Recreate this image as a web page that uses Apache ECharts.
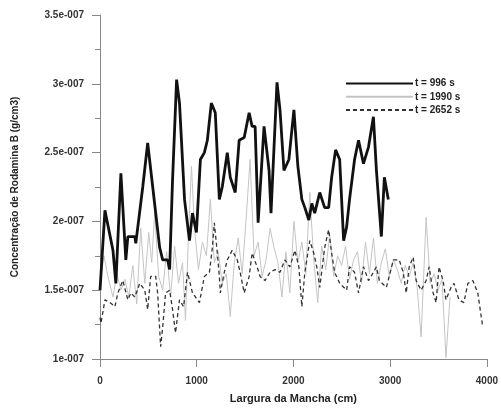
<!DOCTYPE html>
<html>
<head>
<meta charset="utf-8">
<script src="https://cdn.jsdelivr.net/npm/echarts@6/dist/echarts.min.js"></script>
<style>
  html, body { margin: 0; padding: 0; background: #fff; }
  #chart { width: 501px; height: 409px; }
</style>
</head>
<body>
<div id="chart"></div>
<script>
// concentrations are in units of 1e-7 g/cm3
var seriesNames = ['t = 996 s', 't = 1990 s', 't = 2652 s'];

var xTicks = [0, 1000, 2000, 3000, 4000];
var yTickLabels = ['1e-007', '1.5e-007', '2e-007', '2.5e-007', '3e-007', '3.5e-007'];

var x996 = [0, 51, 134, 164, 216, 267, 288, 360, 370, 442, 493, 545, 617, 648, 699, 720, 750, 792, 822, 874,
    884, 925, 956, 997, 1038, 1079, 1110, 1151, 1192, 1234, 1264, 1316, 1347, 1398, 1439, 1491, 1542, 1573, 1604, 1635,
    1696, 1748, 1768, 1830, 1861, 1902, 1953, 2005, 2046, 2087, 2118, 2159, 2190, 2220, 2272, 2323, 2364, 2395, 2436, 2478,
    2519, 2550, 2580, 2632, 2673, 2724, 2776, 2827, 2858, 2909, 2940, 2981];
var y996 = [1.50, 2.08, 1.79, 1.55, 2.35, 1.72, 1.89, 1.89, 1.84, 2.25, 2.57, 2.25, 1.81, 1.72, 1.72, 1.65, 2.30, 3.03, 2.86, 2.16,
    2.10, 1.86, 2.06, 1.92, 2.45, 2.50, 2.59, 2.86, 2.79, 2.16, 2.25, 2.50, 2.32, 2.21, 2.59, 2.61, 2.79, 2.69, 2.69, 1.99,
    2.69, 2.37, 2.06, 3.01, 2.81, 2.37, 2.45, 2.81, 2.40, 2.16, 2.10, 2.01, 2.13, 2.06, 2.21, 2.10, 2.10, 2.32, 2.52, 2.45,
    1.86, 1.96, 2.16, 2.45, 2.59, 2.42, 2.54, 2.76, 2.37, 1.89, 2.32, 2.16];

var x1990 = [0, 41, 82, 134, 175, 216, 257, 298, 339, 380, 421, 463, 504, 535, 565, 607, 648, 689, 730, 771,
    812, 853, 884, 915, 946, 977, 1018, 1059, 1100, 1141, 1182, 1223, 1264, 1306, 1347, 1388, 1429, 1470, 1511, 1552,
    1593, 1635, 1676, 1717, 1758, 1799, 1840, 1881, 1922, 1963, 2005, 2046, 2087, 2128, 2169, 2210, 2251, 2292, 2334, 2375,
    2416, 2457, 2498, 2539, 2580, 2621, 2663, 2704, 2745, 2786, 2827, 2868, 2909, 2950, 2991, 3033, 3074, 3115, 3156, 3197,
    3238, 3279, 3320, 3372, 3413, 3454, 3495, 3536, 3577, 3619];
var y1990 = [1.55, 1.75, 1.60, 1.45, 1.62, 1.50, 1.58, 1.45, 1.68, 1.40, 1.95, 1.55, 1.92, 1.70, 2.06, 1.60, 1.50, 1.78, 1.45, 1.82,
    1.55, 1.70, 1.28, 1.90, 2.40, 1.95, 1.65, 1.85, 1.75, 2.16, 1.70, 1.78, 1.55, 1.62, 1.31, 1.70, 1.88, 1.62, 2.02, 2.45,
    1.75, 1.85, 1.60, 1.72, 1.95, 1.81, 1.70, 1.45, 1.78, 1.48, 2.00, 1.70, 1.85, 1.62, 2.21, 1.72, 1.41, 1.82, 1.65, 1.90,
    1.60, 1.75, 1.68, 1.82, 1.58, 1.72, 1.78, 1.55, 1.85, 1.62, 1.88, 1.55, 1.70, 1.80, 1.60, 1.72, 1.65, 1.55, 1.68, 1.60,
    1.70, 1.52, 1.16, 2.03, 1.55, 1.62, 1.50, 1.58, 1.01, 1.45];

var x2652 = [0, 10, 51, 103, 154, 185, 236, 288, 319, 360, 411, 463, 493, 524, 576, 596, 627, 648, 678, 720,
    750, 781, 822, 864, 905, 956, 1007, 1028, 1079, 1131, 1162, 1182, 1213, 1234, 1244, 1285, 1316, 1367, 1419, 1449,
    1491, 1542, 1573, 1624, 1655, 1706, 1758, 1809, 1861, 1912, 1963, 2015, 2056, 2087, 2118, 2169, 2210, 2241, 2272, 2323,
    2364, 2395, 2426, 2478, 2550, 2580, 2632, 2673, 2724, 2776, 2827, 2858, 2889, 2961, 3033, 3094, 3135, 3166, 3197, 3238,
    3269, 3320, 3372, 3403, 3444, 3475, 3505, 3547, 3577, 3629, 3660, 3711, 3762, 3804, 3855, 3906, 3937, 3958];
var y2652 = [1.30, 1.26, 1.43, 1.41, 1.38, 1.48, 1.57, 1.43, 1.48, 1.45, 1.55, 1.50, 1.36, 1.60, 1.60, 1.48, 1.09, 1.23, 1.48, 1.50,
    1.36, 1.19, 1.43, 1.38, 1.63, 1.48, 1.43, 1.41, 1.60, 1.63, 1.81, 1.99, 1.77, 1.60, 1.48, 1.63, 1.72, 1.79, 1.72, 1.63,
    1.48, 1.60, 1.77, 1.67, 1.60, 1.57, 1.63, 1.65, 1.63, 1.72, 1.67, 1.79, 1.67, 1.38, 1.63, 1.86, 1.77, 1.67, 1.52, 1.81,
    1.94, 1.77, 1.63, 1.55, 1.50, 1.67, 1.63, 1.48, 1.67, 1.57, 1.63, 1.67, 1.57, 1.52, 1.72, 1.72, 1.63, 1.48, 1.67, 1.74,
    1.57, 1.50, 1.57, 1.67, 1.48, 1.41, 1.67, 1.57, 1.43, 1.52, 1.55, 1.43, 1.41, 1.55, 1.57, 1.48, 1.33, 1.23];

function pairs(xs, ys) {
    var out = [];
    for (var i = 0; i < xs.length; i++) {
        out.push([xs[i], ys[i]]);
    }
    return out;
}

var chart = echarts.init(document.getElementById('chart'));
var font = 'Liberation Sans, Arial, sans-serif';

var option = {
    backgroundColor: '#fff',
    animation: false,
    grid: { left: 100, right: 12, top: 15, bottom: 49 },
    legend: {
        orient: 'vertical',
        left: 340,
        top: 73,
        itemWidth: 67,
        itemHeight: 14,
        itemGap: 2,
        data: seriesNames,
        itemStyle: { opacity: 0 },
        textStyle: { fontFamily: font, fontWeight: 'bold', fontSize: 10, color: '#222', padding: [0, 0, 0, -3] }
    },
    xAxis: {
        type: 'value',
        min: xTicks[0],
        max: xTicks[xTicks.length - 1],
        interval: 1000,
        name: 'Largura da Mancha (cm)',
        nameLocation: 'middle',
        nameGap: 34,
        nameTextStyle: { fontFamily: font, fontWeight: 'bold', fontSize: 11, color: '#222' },
        axisLine: { lineStyle: { color: '#888', width: 1 } },
        axisTick: { length: 8, lineStyle: { color: '#888' } },
        axisLabel: {
            fontFamily: font, fontWeight: 'bold', fontSize: 10, color: '#333', margin: 17,
            formatter: function (v) { return String(v); }
        },
        splitLine: { show: false }
    },
    yAxis: {
        type: 'value',
        min: 1,
        max: 3.5,
        interval: 0.5,
        name: 'Concentração de Rodamina B (g/cm3)',
        nameLocation: 'middle',
        nameGap: 80,
        nameTextStyle: { fontFamily: font, fontWeight: 'bold', fontSize: 10, color: '#222' },
        axisLine: { show: true, lineStyle: { color: '#888', width: 1 } },
        axisTick: { show: true, length: 8, lineStyle: { color: '#888' } },
        minorTick: { show: true, splitNumber: 2, length: 5, lineStyle: { color: '#888' } },
        axisLabel: {
            fontFamily: font, fontWeight: 'bold', fontSize: 10, color: '#333', margin: 16,
            formatter: function (v) {
                return yTickLabels[Math.round((v - 1) / 0.5)];
            }
        },
        splitLine: { show: false }
    },
    series: [
        {
            name: seriesNames[0],
            type: 'line',
            symbol: 'none',
            z: 3,
            lineStyle: { color: '#111', width: 2.8 },
            itemStyle: { color: '#111' },
            data: pairs(x996, y996)
        },
        {
            name: seriesNames[1],
            type: 'line',
            symbol: 'none',
            z: 1,
            lineStyle: { color: '#c4c4c4', width: 1 },
            itemStyle: { color: '#c4c4c4' },
            data: pairs(x1990, y1990)
        },
        {
            name: seriesNames[2],
            type: 'line',
            symbol: 'none',
            z: 2,
            lineStyle: { color: '#333', width: 1.3, type: [4, 3] },
            itemStyle: { color: '#333' },
            data: pairs(x2652, y2652)
        }
    ]
};
chart.setOption(option);
</script>
</body>
</html>
